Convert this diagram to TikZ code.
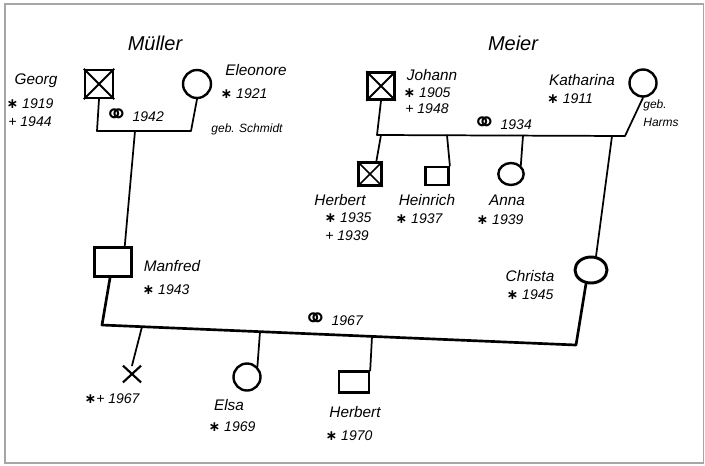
\documentclass[tikz,border=0pt]{standalone}
\usepackage{fontspec}
\setmainfont{Liberation Sans}
\newfontfamily\symfont{DejaVu Sans}
\newcommand{\mar}{\raisebox{-2.5pt}{\symfont\fontsize{22}{22}\selectfont ⚭}}
\newcommand{\bor}{{\symfont\bfseries ∗}}
\usetikzlibrary{shapes.geometric,shapes.misc,calc}
\begin{document}
\begin{tikzpicture}[x=0.75pt,y=-0.75pt,
  sym/.style={draw=black,line width=1.8pt,inner sep=0pt},
  sq/.style={sym,rectangle,minimum width=#1*0.75pt,minimum height=#1*0.75pt},
  circ/.style={sym,circle,minimum size=#1*0.75pt},
  conn/.style={line width=1.3pt,line cap=round,line join=round},
  thick conn/.style={line width=2pt,line cap=round,line join=round},
  nm/.style={font=\itshape\fontsize{11.5}{13}\selectfont,inner sep=0pt},
  dt/.style={font=\itshape\fontsize{10.5}{12}\selectfont,inner sep=0pt},
  fam/.style={font=\itshape\fontsize{15}{17}\selectfont,inner sep=0pt},
  small/.style={font=\itshape\fontsize{9}{10}\selectfont,inner sep=0pt}]
\useasboundingbox (0,0) rectangle (705,465);
\draw[gray!70,line width=1.4pt] (5,4) rectangle (703.5,463);

% ---- Mueller family
\node[fam] (tmueller) at (155,43) {Müller};
\node[sq=28] (georg) at (99,84) {};
\draw[line width=1.4pt] (georg.north west) -- (georg.south east) (georg.north east) -- (georg.south west);
\node[circ=28] (eleonore) at (197,84) {};
\node[nm] (tgeorg) at (36,81) {Georg};
\node[dt] (tgeorgb) at (30,104) {\bor{} 1919};
\node[dt] (tgeorgd) at (30,122) {+ 1944};
\node[nm] (televo) at (256,70) {Eleonore};
\node[dt] (televob) at (244,94) {\bor{} 1921};
\node[small] (tschmidt) at (247,129) {geb. Schmidt};
\coordinate (mA) at (97,131);
\coordinate (mB) at (191,131);
\coordinate (mD) at (135,131);
\draw[conn] (georg.south) -- (mA) -- (mB) -- (eleonore.south);
\node[dt] (tm1942) at (134,117) {\mar{} 1942};

\node[rectangle,sym,minimum width=27.5pt,minimum height=21.5pt] (manfred) at (113,262) {};
\draw[conn] (mD) -- ($(manfred.north)!0.6!(manfred.north east)$);
\node[nm] (tmanfred) at (172,266) {Manfred};
\node[dt] (tmanfredb) at (166,290) {\bor{} 1943};

% ---- Meier family
\node[fam] (tmeier) at (513,43) {Meier};
\node[sq=27] (johann) at (381,86) {};
\draw[line width=1.4pt] (johann.north west) -- (johann.south east) (johann.north east) -- (johann.south west);
\node[circ=27] (katharina) at (643,83) {};
\node[nm] (tjohann) at (432,75) {Johann};
\node[dt] (tjohannb) at (427,93) {\bor{} 1905};
\node[dt] (tjohannd) at (427,109) {+ 1948};
\node[nm] (tkath) at (582,80) {Katharina};
\node[dt] (tkathb) at (570,99) {\bor{} 1911};
\node[small] (tgeb) at (655,105) {geb.};
\node[small] (tharms) at (661,122) {Harms};
\coordinate (kA) at (377,135);
\coordinate (kB) at (625,136);
\draw[conn] (johann.south) -- (kA) -- (kB) -- (katharina.south);
\node[dt] (tm1934) at (502,125) {\mar{} 1934};

\coordinate (c1) at (381,135);
\coordinate (c2) at (447,135.3);
\coordinate (c3) at (523,135.6);
\coordinate (c4) at (612,136);
\node[sq=23] (herbert1) at (370,174) {};
\draw[line width=1.3pt] (herbert1.north west) -- (herbert1.south east) (herbert1.north east) -- (herbert1.south west);
\node[rectangle,sym,minimum width=17.5pt,minimum height=13.5pt] (heinrich) at (437,176) {};
\node[ellipse,sym,minimum width=19pt,minimum height=16.5pt] (anna) at (511,174) {};
\node[ellipse,sym,minimum width=24pt,minimum height=19.5pt,line width=2.2pt] (christa) at (591,270) {};
\draw[conn] (c1) -- ($(herbert1.north)!0.5!(herbert1.north east)$);
\draw[conn] (c2) -- (heinrich.north east);
\draw[conn] (c3) -- (anna.north east);
\draw[conn] (c4) -- (christa.70);

\node[nm] (therbert1) at (340,200) {Herbert};
\node[dt] (therbert1b) at (348,218) {\bor{} 1935};
\node[dt] (therbert1d) at (347,236) {+ 1939};
\node[nm] (theinrich) at (427,200) {Heinrich};
\node[dt] (theinrichb) at (419,219) {\bor{} 1937};
\node[nm] (tanna) at (507,200) {Anna};
\node[dt] (tannab) at (500,220) {\bor{} 1939};

\node[nm] (tchrista) at (530,276) {Christa};
\node[dt] (tchristab) at (530,295) {\bor{} 1945};

% ---- marriage 1967
\coordinate (bA) at (102,325);
\coordinate (bB) at (576,345);
\draw[thick conn] ($(manfred.south)!0.15!(manfred.south west)$) -- (bA) -- (bB) -- (christa.250);
\node[dt] (tm1967) at (333,321) {\mar{} 1967};

\coordinate (e1) at (142,326.7);
\coordinate (e2) at (260,331.7);
\coordinate (e3) at (372,336.4);
\node[cross out,draw=black,line width=1.6pt,minimum width=12pt,minimum height=11pt,inner sep=0pt] (child0) at (132,374) {};
\node[circ=27] (elsa) at (247,377) {};
\node[rectangle,sym,minimum width=22.5pt,minimum height=15.5pt] (herbert2) at (354,382) {};
\draw[conn] (e1) -- (child0.north);
\draw[conn] (e2) -- (elsa.north east);
\draw[conn] (e3) -- (herbert2.north east);

\node[dt] (tchild0) at (112,399) {\bor+ 1967};
\node[nm] (telsa) at (229,405) {Elsa};
\node[dt] (telsab) at (232,427) {\bor{} 1969};
\node[nm] (therbert2) at (355,412) {Herbert};
\node[dt] (therbert2b) at (349,436) {\bor{} 1970};
\end{tikzpicture}
\end{document}
